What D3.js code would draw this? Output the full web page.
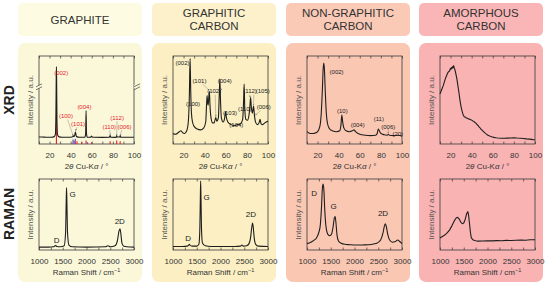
<!DOCTYPE html>
<html lang="en">
<head>
<meta charset="UTF-8">
<title>XRD and Raman of carbons</title>
<style>
  body { margin: 0; background: #fff; }
  svg { display: block; font-family: "Liberation Sans", Arial, sans-serif; }
</style>
<script src="https://d3js.org/d3.v7.min.js"></script>
</head>
<body>
<svg id="fig" width="546" height="285"></svg>
<script>
// ---- data ----
const titles = [["GRAPHITE"], ["GRAPHITIC", "CARBON"], ["NON-GRAPHITIC", "CARBON"], ["AMORPHOUS", "CARBON"]];
const headColors = ["#fdfbe2", "#fcf1cb", "#fbcab7", "#fab6b6"];
const panelColors = ["#fbf8da", "#fbefc3", "#fac7b3", "#f9b3b3"];

const xrdTicks = [20, 40, 60, 80, 100];
const xrdMinor = [10, 20, 30, 40, 50, 60, 70, 80, 90, 100];
const ramanTicks = [1000, 1500, 2000, 2500, 3000];
const ramanMinor = [1000, 1250, 1500, 1750, 2000, 2250, 2500, 2750, 3000];

// XRD patterns: [2theta, normalised intensity]
const graphiteXrd = [[10,0.08],[15,0.078],[20,0.076],[23,0.078],[24.5,0.085],[25.5,0.11],[26,0.3],[26.3,0.72],[26.5,0.88],[26.7,0.72],[27,0.3],[27.5,0.11],[28.5,0.085],[30,0.078],[35,0.076],[40,0.077],[42,0.082],[42.4,0.095],[42.8,0.085],[43.5,0.09],[44.2,0.12],[44.5,0.135],[44.8,0.12],[45.5,0.085],[47,0.078],[50,0.076],[53.5,0.078],[54.2,0.12],[54.6,0.38],[55,0.12],[55.7,0.078],[58,0.076],[59.5,0.082],[59.9,0.09],[60.3,0.08],[62,0.076],[70,0.075],[76.8,0.076],[77.4,0.095],[78,0.076],[82,0.075],[83.3,0.08],[83.6,0.095],[83.9,0.08],[86.5,0.08],[87,0.095],[87.4,0.078],[95,0.076],[100,0.076]];
const graphiticXrd = [[10,0.12],[12,0.11],[14,0.12],[16,0.14],[17.5,0.15],[19,0.13],[21,0.12],[23,0.15],[24.5,0.25],[25.5,0.55],[26.2,0.97],[26.8,0.6],[27.5,0.35],[28.5,0.25],[30,0.2],[33,0.17],[36,0.16],[39,0.18],[41,0.25],[41.8,0.45],[42.3,0.55],[42.8,0.47],[43.3,0.44],[44,0.55],[44.5,0.6],[45,0.45],[46,0.3],[47.5,0.24],[49,0.24],[50.5,0.3],[51.5,0.26],[53,0.3],[53.8,0.55],[54.4,0.74],[55,0.5],[55.8,0.3],[57.5,0.25],[59,0.3],[59.8,0.37],[60.6,0.3],[62,0.25],[65,0.22],[68,0.21],[71,0.22],[74,0.23],[76,0.28],[76.9,0.5],[77.4,0.68],[78,0.4],[79,0.28],[80.5,0.27],[82,0.33],[83,0.45],[83.5,0.53],[84.2,0.42],[85.2,0.35],[86.3,0.43],[87.2,0.32],[88.5,0.24],[90,0.22],[91.5,0.24],[92.5,0.28],[93.5,0.23],[95,0.22],[97,0.24],[98.5,0.25],[100,0.26]];
const nonGraphiticXrd = [[10,0.14],[13,0.12],[16,0.12],[19,0.13],[21,0.16],[22.5,0.22],[23.5,0.35],[24.5,0.6],[25.3,0.85],[25.9,0.92],[26.5,0.85],[27.3,0.6],[28.3,0.35],[29.5,0.23],[31,0.18],[34,0.15],[38,0.14],[41,0.15],[42.2,0.22],[43,0.33],[43.7,0.26],[45,0.18],[47,0.15],[50,0.14],[53,0.15],[54.5,0.16],[56,0.14],[60,0.11],[65,0.1],[70,0.095],[75,0.1],[76.5,0.12],[77.5,0.17],[78.5,0.15],[80,0.12],[83,0.105],[86,0.1],[87,0.11],[88,0.1],[92,0.095],[96,0.1],[100,0.09]];
const amorphousXrd = [[10,0.57],[11,0.6],[12,0.63],[13,0.66],[14,0.7],[15,0.74],[16,0.77],[17,0.8],[18,0.82],[19,0.83],[20,0.86],[20.5,0.85],[21,0.87],[21.5,0.86],[22,0.88],[22.5,0.87],[23,0.89],[23.5,0.86],[24,0.85],[25,0.8],[26,0.74],[27,0.66],[28,0.58],[29,0.49],[30,0.42],[31,0.37],[32,0.33],[33,0.31],[34,0.305],[35,0.295],[36,0.292],[37,0.285],[38,0.283],[39,0.275],[40,0.272],[41,0.262],[42,0.258],[43,0.245],[44,0.238],[45,0.222],[46,0.212],[47,0.195],[48,0.182],[49,0.166],[50,0.156],[51,0.144],[52,0.132],[53,0.121],[54,0.112],[55,0.102],[57,0.09],[59,0.082],[61,0.075],[63,0.071],[65,0.068],[68,0.066],[71,0.065],[74,0.067],[77,0.068],[80,0.071],[83,0.068],[86,0.066],[89,0.062],[92,0.058],[95,0.055],[98,0.05],[100,0.048]];

// reference sticks under the graphite pattern: [2theta, height, colour]
const graphiteSticks = [[26.5,0.33,"#e8202a"],[42.2,0.05,"#4a5ad8"],[43.3,0.04,"#e8202a"],[44.4,0.06,"#4a5ad8"],[46,0.03,"#e8202a"],[50.6,0.02,"#e8202a"],[54.6,0.04,"#e8202a"],[56,0.02,"#4a5ad8"],[59.8,0.02,"#e8202a"],[77.4,0.03,"#e8202a"],[83.6,0.04,"#e8202a"],[86.9,0.03,"#e8202a"]];

// Raman spectra: [shift, normalised intensity]
const graphiteRaman = [[1000,0.04],[1200,0.04],[1300,0.045],[1340,0.06],[1355,0.065],[1370,0.05],[1450,0.045],[1530,0.06],[1560,0.25],[1572,0.66],[1580,0.88],[1588,0.66],[1600,0.25],[1630,0.07],[1700,0.045],[2000,0.04],[2400,0.045],[2450,0.06],[2500,0.045],[2600,0.06],[2650,0.13],[2685,0.27],[2705,0.3],[2725,0.22],[2745,0.1],[2780,0.055],[2850,0.045],[3000,0.04]];
const graphiticRaman = [[1000,0.05],[1200,0.05],[1300,0.055],[1330,0.07],[1345,0.08],[1360,0.065],[1400,0.055],[1500,0.055],[1545,0.08],[1565,0.3],[1575,0.7],[1582,0.97],[1590,0.7],[1600,0.3],[1620,0.1],[1680,0.06],[1800,0.05],[2000,0.05],[2300,0.05],[2420,0.055],[2450,0.07],[2480,0.055],[2550,0.06],[2600,0.09],[2630,0.16],[2655,0.3],[2675,0.38],[2690,0.32],[2710,0.17],[2740,0.08],[2800,0.055],[3000,0.05]];
const nonGraphiticRaman = [[1000,0.09],[1080,0.11],[1150,0.14],[1200,0.17],[1250,0.25],[1280,0.35],[1305,0.6],[1325,0.88],[1340,0.93],[1355,0.85],[1375,0.55],[1400,0.33],[1440,0.22],[1480,0.2],[1520,0.23],[1550,0.33],[1575,0.45],[1592,0.47],[1610,0.38],[1630,0.22],[1660,0.13],[1720,0.095],[1800,0.08],[1900,0.075],[2000,0.07],[2100,0.07],[2200,0.072],[2300,0.075],[2400,0.085],[2480,0.1],[2550,0.14],[2600,0.24],[2630,0.34],[2650,0.37],[2670,0.33],[2700,0.22],[2740,0.14],[2800,0.11],[2860,0.12],[2910,0.14],[2950,0.12],[3000,0.09]];
const amorphousRaman = [[1000,0.17],[1050,0.19],[1100,0.21],[1150,0.24],[1200,0.28],[1250,0.34],[1300,0.41],[1340,0.45],[1370,0.46],[1400,0.44],[1440,0.39],[1470,0.37],[1500,0.38],[1530,0.43],[1560,0.51],[1585,0.54],[1600,0.5],[1620,0.38],[1640,0.25],[1660,0.17],[1700,0.14],[1750,0.13],[1800,0.125],[1900,0.127],[2000,0.13],[2100,0.128],[2200,0.132],[2300,0.13],[2400,0.135],[2500,0.133],[2600,0.137],[2700,0.14],[2800,0.138],[2900,0.145],[3000,0.145]];

// peak labels: [text, x, y]
const graphiteXrdLabels = [["(002)",31,0.81],["(100)",35.5,0.32],["(101)",47,0.23],["(004)",53,0.42],["(112)",84,0.3],["(110)",76.5,0.2],["(006)",91,0.2]];
const graphiticXrdLabels = [["(002)",19,0.92],["(101)",35,0.72],["(004)",59,0.72],["(102)",49,0.6],["(100)",29,0.46],["(103)",64,0.35],["(104)",70,0.22],["(110)",78,0.4],["(112)",83,0.6],["(105)",95,0.6],["(006)",96,0.42]];
const nonGraphiticXrdLabels = [["(002)",38,0.82],["(10)",43.5,0.38],["(004)",58,0.22],["(11)",78,0.28],["(006)",87,0.2],["(20)",96,0.12]];
const graphiteRamanLabels = [["D",1370,0.14],["G",1710,0.78],["2D",2700,0.4]];
const graphiticRamanLabels = [["D",1320,0.16],["G",1710,0.74],["2D",2640,0.5]];
const nonGraphiticRamanLabels = [["D",1150,0.8],["G",1560,0.62],["2D",2600,0.52]];

// annotation arrows: [x1, y1, x2, y2] in data units
const graphiteArrows = [[37,0.28,42.2,0.1],[46,0.19,44.6,0.15],[77,0.16,77.4,0.1],[84,0.26,83.6,0.1],[88.5,0.16,87,0.1]];
const graphiticArrows = [[38,0.68,44.3,0.61],[50,0.56,50.5,0.31],[56.5,0.62,55,0.62],[82,0.56,83.5,0.53],[86.5,0.56,86.3,0.44],[93,0.38,88,0.33]];
const nonGraphiticArrows = [[87,0.17,87,0.12]];

// ---- layout ----
const svg = d3.select("#fig");
const colX = [18, 152, 286, 419], colW = 124;
const xrdBox = { top: 56, bottom: 144 }, ramanBox = { top: 179, bottom: 250 };

const xrdSets = [graphiteXrd, graphiticXrd, nonGraphiticXrd, amorphousXrd];
const ramanSets = [graphiteRaman, graphiticRaman, nonGraphiticRaman, amorphousRaman];
const xrdLabelSets = [graphiteXrdLabels, graphiticXrdLabels, nonGraphiticXrdLabels, []];
const ramanLabelSets = [graphiteRamanLabels, graphiticRamanLabels, nonGraphiticRamanLabels, []];
const arrowSets = [graphiteArrows, graphiticArrows, nonGraphiticArrows, []];

const defs = svg.append("defs");
defs.append("marker").attr("id", "ah").attr("viewBox", "0 0 6 6").attr("refX", 5).attr("refY", 3)
  .attr("markerWidth", 4).attr("markerHeight", 4).attr("orient", "auto")
  .append("path").attr("d", "M0,0L6,3L0,6Z").attr("fill", "#8a8a8a");

// row labels
[["XRD", 100], ["RAMAN", 214]].forEach(([t, cy]) => {
  svg.append("text").attr("transform", `translate(14,${cy}) rotate(-90)`)
    .attr("text-anchor", "middle").attr("font-size", 14).attr("font-weight", "bold")
    .attr("fill", "#222").text(t);
});

titles.forEach((lines, i) => {
  const x0 = colX[i];
  svg.append("rect").attr("x", x0).attr("y", 3).attr("width", colW).attr("height", 33)
    .attr("rx", 5).attr("fill", headColors[i]);
  const t = svg.append("text").attr("text-anchor", "middle").attr("font-size", 11.5).attr("fill", "#333");
  lines.forEach((l, k) => {
    const yy = lines.length === 1 ? 23.5 : 16.5 + k * 13;
    t.append("tspan").attr("x", x0 + colW / 2).attr("y", yy).text(l);
  });
  svg.append("rect").attr("x", x0).attr("y", 43).attr("width", colW).attr("height", 239)
    .attr("rx", 7).attr("fill", panelColors[i]);

  drawPlot(i, "xrd");
  drawPlot(i, "raman");
});

function drawPlot(i, kind) {
  const isX = kind === "xrd";
  const box = isX ? xrdBox : ramanBox;
  const x0 = colX[i] + 21, x1 = colX[i] + 116;
  const x = d3.scaleLinear().domain(isX ? [10, 100] : [1000, 3000]).range([x0, x1]);
  const y = d3.scaleLinear().domain([0, 1]).range([box.bottom, box.top]);
  const g = svg.append("g");
  const ticks = isX ? xrdTicks : ramanTicks;
  const minor = isX ? xrdMinor : ramanMinor;

  // frame
  g.append("rect").attr("x", x0).attr("y", box.top).attr("width", x1 - x0)
    .attr("height", box.bottom - box.top).attr("fill", "none").attr("stroke", "#3a3a3a").attr("stroke-width", 0.8);

  const bottom = g.append("g").attr("transform", `translate(0,${box.bottom})`)
    .call(d3.axisBottom(x).tickValues(minor).tickSize(-2.5).tickPadding(8)
      .tickFormat(d => ticks.includes(d) ? d : ""));
  bottom.select(".domain").remove();
  bottom.selectAll("line").attr("stroke", "#3a3a3a").attr("stroke-width", 0.7);
  bottom.selectAll("text").attr("font-size", 8).attr("fill", "#333").attr("font-family", "Liberation Sans, Arial, sans-serif");

  const top = g.append("g").attr("transform", `translate(0,${box.top})`)
    .call(d3.axisTop(x).tickValues(minor).tickSize(-2.5).tickFormat(""));
  top.select(".domain").remove();
  top.selectAll("line").attr("stroke", "#3a3a3a").attr("stroke-width", 0.7);

  // axis titles
  const cx = (x0 + x1) / 2;
  if (isX) {
    const t = g.append("text").attr("x", cx).attr("y", box.bottom + 25).attr("text-anchor", "middle")
      .attr("font-size", 8).attr("fill", "#333");
    t.append("tspan").text("2");
    t.append("tspan").attr("font-style", "italic").text("θ");
    t.append("tspan").text(" Cu-K");
    t.append("tspan").attr("font-style", "italic").text("α");
    t.append("tspan").text(" / °");
  } else {
    const t = g.append("text").attr("x", cx).attr("y", box.bottom + 25).attr("text-anchor", "middle")
      .attr("font-size", 8).attr("fill", "#333");
    t.append("tspan").text("Raman Shift / cm");
    t.append("tspan").attr("font-size", 5.5).attr("dy", -3).text("−1");
  }
  g.append("text").attr("transform", `translate(${x0 - 6},${(box.top + box.bottom) / 2}) rotate(-90)`)
    .attr("text-anchor", "middle").attr("font-size", 8).attr("fill", "#555").text("Intensity / a.u.");

  // reference sticks (graphite XRD only)
  if (isX && i === 0) {
    g.selectAll(".stick").data(graphiteSticks).join("line")
      .attr("x1", d => x(d[0])).attr("x2", d => x(d[0]))
      .attr("y1", y(0)).attr("y2", d => y(d[1]))
      .attr("stroke", d => d[2]).attr("stroke-width", 1.1);
  }

  const data = isX ? xrdSets[i] : ramanSets[i];
  const noisy = i === 3;
  const line = d3.line().x(d => x(d[0])).y(d => y(d[1]))
    .curve(noisy ? d3.curveLinear : d3.curveMonotoneX);
  g.append("path").datum(data).attr("d", line).attr("fill", "none")
    .attr("stroke", "#1e1e1e").attr("stroke-width", 1.1).attr("stroke-linejoin", "round");

  // axis break marks on the graphite XRD
  if (isX && i === 0) {
    const by = y(0.65);
    [x0, x1 + 3].forEach(bx => {
      g.append("rect").attr("x", bx - 3).attr("y", by - 1.5).attr("width", 6).attr("height", 3).attr("fill", panelColors[0]);
      [-1.5, 1.5].forEach(o => g.append("line")
        .attr("x1", bx - 3).attr("y1", by + o + 1.5).attr("x2", bx + 3).attr("y2", by + o - 1.5)
        .attr("stroke", "#444").attr("stroke-width", 0.7));
    });
  }

  // arrows + labels
  if (isX) {
    g.selectAll(".arr").data(arrowSets[i]).join("line")
      .attr("x1", d => x(d[0])).attr("y1", d => y(d[1])).attr("x2", d => x(d[2])).attr("y2", d => y(d[3]))
      .attr("stroke", "#8a8a8a").attr("stroke-width", 0.5).attr("marker-end", "url(#ah)");
  }
  const labels = isX ? xrdLabelSets[i] : ramanLabelSets[i];
  g.selectAll(".lab").data(labels).join("text")
    .attr("x", d => x(d[1])).attr("y", d => y(d[2])).attr("dy", "0.35em")
    .attr("text-anchor", "middle")
    .attr("font-size", isX ? 6 : 8)
    .attr("fill", isX && i === 0 ? "#e8202a" : "#222")
    .text(d => d[0]);
}
</script>
</body>
</html>
